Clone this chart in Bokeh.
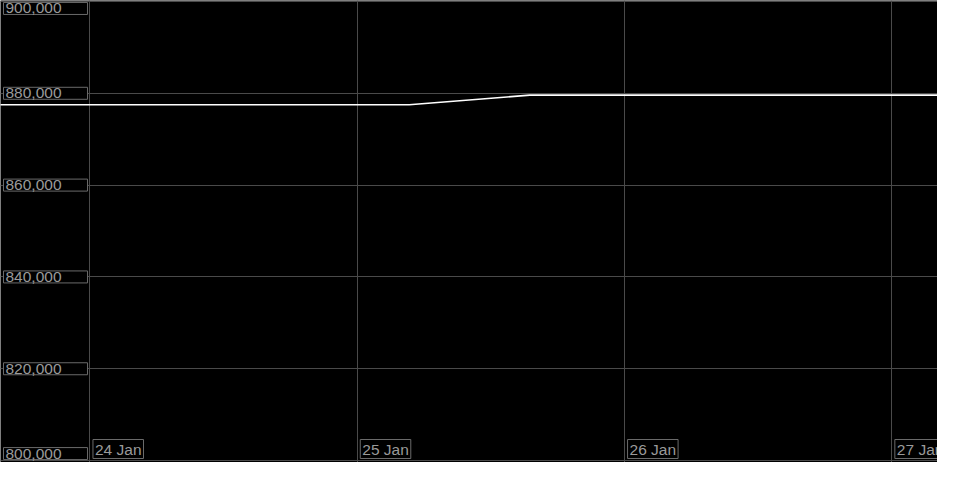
from datetime import datetime
from bokeh.plotting import figure
from bokeh.models import FixedTicker, Label, Range1d
from bokeh.embed import file_html
from bokeh.resources import INLINE

# data
times = [datetime(2024, 1, 23, 12, 0), datetime(2024, 1, 25, 4, 40),
         datetime(2024, 1, 25, 15, 30), datetime(2024, 1, 27, 8, 0)]
values = [877500, 877500, 879600, 879600]

x_tick_dates = [datetime(2024, 1, 24), datetime(2024, 1, 25), datetime(2024, 1, 26), datetime(2024, 1, 27)]
x_tick_labels = ["24 Jan", "25 Jan", "26 Jan", "27 Jan"]
y_tick_values = [800000, 820000, 840000, 860000, 880000, 900000]
y_tick_labels = ["800,000", "820,000", "840,000", "860,000", "880,000", "900,000"]

def ms(d):
    return (d - datetime(1970, 1, 1)).total_seconds() * 1000.0

x_start = ms(datetime(2024, 1, 23, 15, 58))
x_end = ms(datetime(2024, 1, 27, 4, 6))

p = figure(width=937, height=462, x_axis_type="datetime",
           output_backend="svg", toolbar_location=None,
           x_range=Range1d(x_start, x_end), y_range=Range1d(799580, 900210),
           min_border=0, background_fill_color="black", border_fill_color="black")
p.outline_line_color = None
p.xaxis.visible = False
p.yaxis.visible = False
p.xgrid.ticker = FixedTicker(ticks=[ms(d) for d in x_tick_dates])
p.ygrid.ticker = FixedTicker(ticks=y_tick_values)
for g in (p.xgrid, p.ygrid):
    g.grid_line_color = "#4a4a4a"
    g.grid_line_alpha = 1.0
    g.grid_line_width = 1

p.line([ms(t) for t in times], values, line_color="white", line_width=1.6)

font = "Liberation Sans"
for v, lab in zip(y_tick_values, y_tick_labels):
    if v == y_tick_values[-1]:
        base, yoff = "top", -1
    elif v == y_tick_values[0]:
        base, yoff = "bottom", 1
    else:
        base, yoff = "middle", 0
    p.add_layout(Label(x=3, x_units="screen", y=v, y_units="data", y_offset=yoff,
                       text=lab, text_font=font, text_font_size="15.5px",
                       text_color="#9a9a9a", text_baseline=base, text_align="left",
                       background_fill_color="black", border_line_color="#6a6a6a",
                       padding=dict(left=2, right=26, top=1, bottom=1)))

for d, lab in zip(x_tick_dates, x_tick_labels):
    p.add_layout(Label(x=ms(d), x_units="data", x_offset=3, y=4, y_units="screen",
                       text=lab, text_font=font, text_font_size="15.5px",
                       text_color="#9a9a9a", text_baseline="bottom", text_align="left",
                       background_fill_color="black", border_line_color="#6a6a6a",
                       padding=dict(left=2, right=2, top=1, bottom=1)))

open("out.html", "w").write(file_html(p, INLINE))
